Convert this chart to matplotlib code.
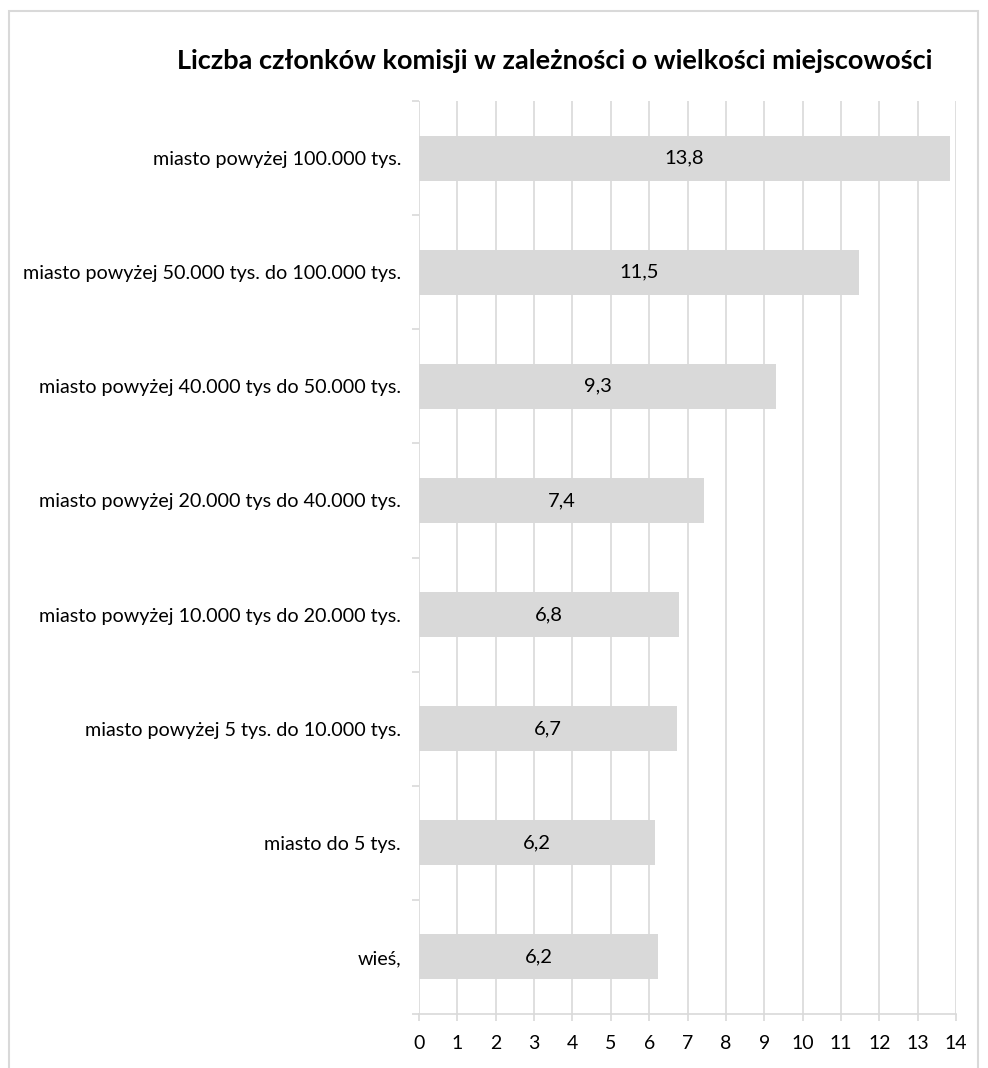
import matplotlib
matplotlib.use("Agg")
import matplotlib.pyplot as plt
from matplotlib.patches import Rectangle

categories = [
    "miasto powyżej 100.000 tys.",
    "miasto powyżej 50.000 tys. do 100.000 tys.",
    "miasto powyżej 40.000 tys do 50.000 tys.",
    "miasto powyżej 20.000 tys do 40.000 tys.",
    "miasto powyżej 10.000 tys do 20.000 tys.",
    "miasto powyżej 5 tys. do 10.000 tys.",
    "miasto do 5 tys.",
    "wieś,",
]
values = [13.85, 11.46, 9.31, 7.43, 6.78, 6.72, 6.15, 6.23]
title = "Liczba członków komisji w zależności o wielkości miejscowości"
xticks = list(range(0, 15))

plt.rcParams['font.family'] = ['Lato', 'DejaVu Sans']

W, H = 988, 1068
fig = plt.figure(figsize=(W / 100, H / 100), dpi=100)
fig.patch.set_facecolor("white")

# outer border
fig.patches.append(Rectangle((9 / W, -0.01), (978 - 9) / W, 1 - 11 / H + 0.01,
                             transform=fig.transFigure, fill=False,
                             edgecolor="#d9d9d9", linewidth=1.5))

left, right, top, bottom = 419, 956, 101, 1014
ax = fig.add_axes([left / W, 1 - bottom / H, (right - left) / W, (bottom - top) / H])

n = len(categories)
ypos = list(range(n))[::-1]
ax.barh(ypos, values, height=0.395, color="#d9d9d9", zorder=2)

for y, v in zip(ypos, values):
    ax.text(v / 2, y, f"{v:.1f}".replace(".", ","), ha="center", va="center",
            fontsize=14.5, color="#000000", zorder=3)

ax.set_xlim(0, 14)
ax.set_ylim(-0.5, n - 0.5)
ax.set_xticks(xticks)
ax.set_xticklabels([str(t) for t in xticks], fontsize=14)
ax.set_yticks(ypos)
ax.set_yticklabels(categories, fontsize=14.2)
ax.set_yticks([i - 0.5 for i in range(n + 1)], minor=True)

ax.grid(axis="x", color="#d9d9d9", linewidth=1.2, zorder=0)
ax.set_axisbelow(True)
for s in ["top", "right", "left"]:
    ax.spines[s].set_visible(False)
ax.spines["bottom"].set_color("#d9d9d9")
ax.spines["bottom"].set_linewidth(1.2)

ax.tick_params(axis="x", length=5, color="#d9d9d9", width=1.2, pad=10, labelcolor="black")
ax.tick_params(axis="y", which="major", length=0, pad=13, labelcolor="black")
ax.tick_params(axis="y", which="minor", length=5, color="#d9d9d9", width=1.2)

fig.text(555 / W, 1 - 61 / H, title, ha="center", va="center",
         fontsize=19.5, fontweight="bold", color="black")

fig.savefig("out.png", dpi=100, facecolor="white")
